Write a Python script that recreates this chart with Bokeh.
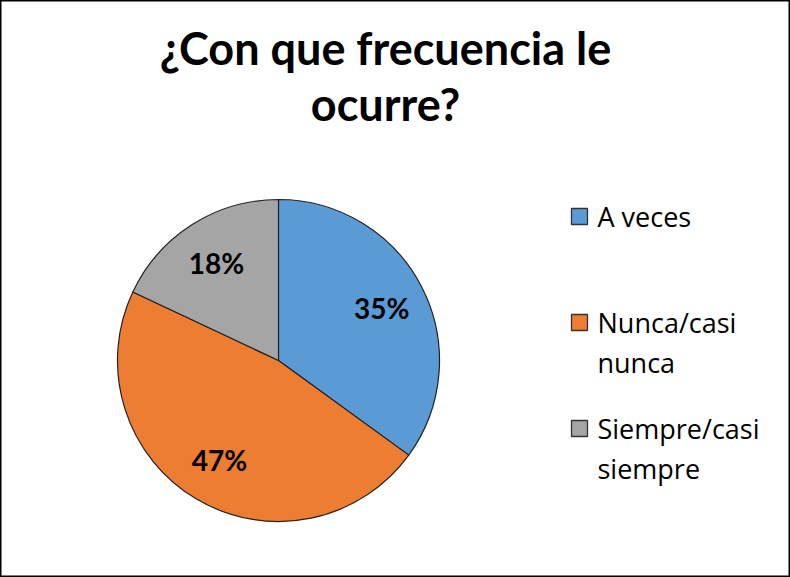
import math
from bokeh.plotting import figure
from bokeh.models import ColumnDataSource, Label
from bokeh.core.properties import value
from bokeh.embed import file_html
from bokeh.resources import INLINE

title_lines = ["¿Con que frecuencia le", "ocurre?"]
categories = ["A veces", "Nunca/casi\nnunca", "Siempre/casi\nsiempre"]
values = [35, 47, 18]
colors = ["#5B9BD5", "#ED7D31", "#A5A5A5"]

W, H = 790, 577
TFONT = "Lato"
LFONT = "Open Sans"

p = figure(width=W, height=H, x_range=(0, W), y_range=(0, H),
           x_axis_type=None, y_axis_type=None, toolbar_location=None,
           output_backend="svg", min_border=0)
p.grid.visible = False
p.outline_line_color = "#000000"
p.outline_line_width = 2
p.background_fill_color = "white"

cx, cy, r = 278, H - 360, 161
total = sum(values)
starts, ends, lx, ly, texts = [], [], [], [], []
a = math.pi / 2
for v in values:
    span = 2 * math.pi * v / total
    starts.append(a)
    ends.append(a - span)
    mid = a - span / 2
    lx.append(cx + 0.72 * r * math.cos(mid))
    ly.append(cy + 0.72 * r * math.sin(mid))
    texts.append(f"{v}%")
    a -= span

src = ColumnDataSource(dict(start=starts, end=ends, color=colors,
                            lx=lx, ly=ly, t=texts))
p.wedge(x=cx, y=cy, radius=r, start_angle="start", end_angle="end",
        direction="clock", fill_color="color", line_color="#222222",
        line_width=1.2, source=src)
p.text(x="lx", y="ly", text="t", source=src, text_font=value(TFONT),
       text_font_style="bold", text_font_size="28px", text_align="center",
       text_baseline="middle", text_color="black")

# title
for i, line in enumerate(title_lines):
    p.add_layout(Label(x=W / 2 - 10, y=H - 47 - i * 56, x_units="data", y_units="data",
                       text=line, text_font=TFONT, text_font_style="bold",
                       text_font_size="45px", text_align="center",
                       text_baseline="middle", text_color="black"))

# legend
leg_y = [H - 216, H - 322, H - 428]
sq_x = 579
src2 = ColumnDataSource(dict(x=[sq_x] * 3, y=leg_y, color=colors))
p.rect(x="x", y="y", width=16, height=16, fill_color="color",
       line_color="#333333", line_width=1.3, source=src2)
tx, ty, tt = [], [], []
for yy, cat in zip(leg_y, categories):
    for j, line in enumerate(cat.split("\n")):
        tx.append(sq_x + 18)
        ty.append(yy - j * 40)
        tt.append(line)
p.text(x=tx, y=ty, text=tt, text_font=value(LFONT),
       text_font_size="27px", text_align="left", text_baseline="middle",
       text_color="black")

open("out.html", "w").write(file_html(p, INLINE))
